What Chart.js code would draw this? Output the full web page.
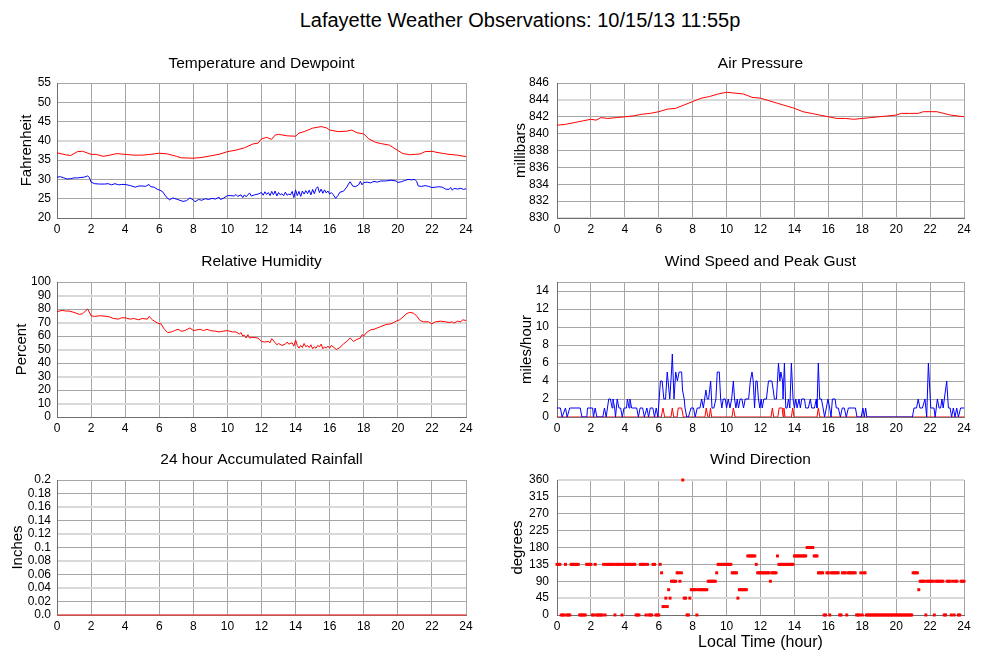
<!DOCTYPE html>
<html>
<head>
<meta charset="utf-8">
<script src="https://cdn.jsdelivr.net/npm/chart.js@4"></script>
<style>
html,body{margin:0;padding:0;background:#fff;width:999px;height:659px;overflow:hidden;position:relative;}
#maintitle{position:absolute;left:20px;width:1000px;top:8px;line-height:24px;text-align:center;font-family:"Liberation Sans",Arial,Helvetica,sans-serif;font-size:20px;color:#000;}
canvas{position:absolute;}
</style>
</head>
<body>
<div id="maintitle">Lafayette Weather Observations: 10/15/13 11:55p</div>
<script>
// ---------------- DATA ----------------
const xTickValues = [0,2,4,6,8,10,12,14,16,18,20,22,24];
const xTickLabels = ['0','2','4','6','8','10','12','14','16','18','20','22','24'];

const tempTicks = [20,25,30,35,40,45,50,55];
const tempLabels = ['20','25','30','35','40','45','50','55'];
const tempHours = [0,0.5,0.8,1.2,1.5,2.0,2.3,2.7,3.0,3.5,4.0,4.5,5.0,5.5,6.0,6.5,7.0,7.3,8.0,8.5,9.0,9.5,10.0,10.5,11.0,11.5,11.8,12.0,12.3,12.6,12.8,13.0,13.5,14.0,14.2,14.5,15.0,15.5,15.8,16.0,16.5,17.0,17.3,17.6,18.0,18.3,18.7,19.0,19.5,20.0,20.3,20.7,21.0,21.3,21.6,22.0,22.3,22.7,23.0,23.5,24];
const tempValues = [36.9,36.4,36.2,37.2,37.3,36.5,36.5,36.0,36.2,36.7,36.5,36.3,36.3,36.5,36.8,36.6,36.0,35.6,35.5,35.7,36.1,36.5,37.2,37.6,38.2,39.2,39.4,40.5,40.9,40.4,41.5,41.7,41.3,41.2,42.0,42.4,43.3,43.7,43.4,42.8,42.4,42.5,42.8,42.1,41.8,40.5,39.6,39.3,38.9,37.5,36.7,36.4,36.5,36.6,37.2,37.3,37.0,36.7,36.5,36.3,35.9];

const dewHours = [0.0,0.2,0.4,0.6,0.8,1.0,1.2,1.4,1.6,1.8,
  1.9,2.0,2.2,2.5,2.8,3.0,3.2,3.4,3.6,3.8,
  4.0,4.3,4.6,4.8,5.0,5.2,5.4,5.5,5.7,5.9,
  6.0,6.2,6.4,6.6,6.8,7.0,7.2,7.4,7.6,7.8,
  8.0,8.1,8.3,8.5,8.7,8.9,9.1,9.3,9.5,9.6,
  9.8,10.0,10.2,10.4,10.5,10.6,10.8,10.9,11.0,11.1,
  11.3,11.4,11.6,11.8,12.0,12.1,12.2,12.3,12.4,12.5,
  12.6,12.7,12.8,12.9,13.0,13.1,13.2,13.3,13.4,13.5,
  13.6,13.7,13.8,13.9,14.0,14.1,14.2,14.3,14.4,14.5,
  14.6,14.7,14.8,14.9,15.0,15.1,15.2,15.3,15.4,15.5,
  15.6,15.7,15.8,15.9,16.0,16.1,16.2,16.35,16.5,16.6,
  16.8,17.0,17.1,17.2,17.35,17.5,17.7,17.8,17.9,18.0,
  18.2,18.4,18.6,18.8,19.0,19.3,19.6,19.9,20.0,20.2,
  20.4,20.6,20.8,21.0,21.1,21.2,21.4,21.6,21.8,22.0,
  22.2,22.4,22.6,22.8,23.0,23.1,23.2,23.3,23.5,23.7,
  23.85,24.0];
const dewValues = [30.6,30.7,30.4,30.1,30.2,30.4,30.4,30.5,30.6,30.9,
  30.5,29.3,28.9,28.8,28.8,28.9,28.6,28.9,28.6,28.7,
  28.7,28.4,28.0,28.3,28.3,28.2,28.7,28.1,28.0,27.4,
  27.3,26.8,25.5,24.7,25.2,24.9,24.6,24.3,24.5,25.2,
  24.7,24.2,24.8,24.6,25.0,24.8,25.1,24.9,25.4,24.8,
  25.2,25.8,25.8,25.7,26.1,25.6,26.0,25.3,26.0,25.5,
  26.5,25.7,26.0,26.2,26.6,25.9,26.8,26.1,26.6,25.8,
  26.9,26.0,27.0,25.7,26.6,26.0,26.3,25.8,26.7,25.9,
  26.2,26.0,26.9,25.3,27.3,25.8,26.9,25.6,27.0,26.2,
  27.1,26.3,27.2,26.0,27.4,26.3,27.6,28.1,26.6,27.5,
  26.4,27.3,26.5,27.0,26.2,26.6,26.1,25.1,25.9,26.7,
  26.9,28.0,28.8,29.4,28.3,28.1,28.6,29.5,28.6,29.2,
  29.3,29.1,29.5,29.3,29.6,29.6,29.8,29.6,29.2,29.4,
  29.7,30.0,29.9,30.0,29.5,28.3,28.2,28.4,28.2,27.9,
  28.0,28.1,28.0,27.5,27.4,27.9,27.2,27.7,27.5,27.7,
  27.4,27.6];

const presTicks = [830,832,834,836,838,840,842,844,846];
const presLabels = ['830','832','834','836','838','840','842','844','846'];
const presHours = [0,0.5,1,1.5,2,2.3,2.6,3,3.5,4,4.5,5,5.5,6,6.5,7,7.5,8,8.5,9,9.5,10,10.5,11,11.5,12,12.5,13,13.5,14,14.5,15,15.5,16,16.5,17,17.5,18,18.5,19,19.5,20,20.3,20.8,21.3,21.6,22,22.4,22.8,23.2,23.6,24];
const presValues = [841.0,841.1,841.3,841.5,841.7,841.6,841.9,841.8,841.9,842.0,842.1,842.3,842.4,842.6,842.9,843.0,843.4,843.8,844.2,844.4,844.7,844.9,844.8,844.7,844.3,844.2,843.9,843.6,843.3,843.0,842.6,842.4,842.2,842.0,841.8,841.8,841.7,841.8,841.9,842.0,842.1,842.2,842.4,842.4,842.4,842.6,842.6,842.6,842.4,842.2,842.1,842.0];

const rhTicks = [0,10,20,30,40,50,60,70,80,90,100];
const rhLabels = ['0','10','20','30','40','50','60','70','80','90','100'];
const rhHours = [0,0.3,0.5,0.7,1.0,1.3,1.5,1.8,2.0,2.2,
  2.5,3.0,3.3,3.6,3.8,4.0,4.3,4.5,4.8,5.0,
  5.3,5.4,5.6,5.9,6.1,6.3,6.5,6.7,6.9,7.1,
  7.3,7.5,7.8,8.0,8.2,8.4,8.6,8.8,9.0,9.3,
  9.5,9.7,10.0,10.3,10.5,10.7,10.8,10.9,11.0,11.1,
  11.2,11.3,11.5,11.8,12.0,12.2,12.4,12.5,12.6,12.8,
  12.9,13.0,13.2,13.4,13.5,13.6,13.8,13.9,14.0,14.1,
  14.2,14.3,14.4,14.5,14.6,14.7,14.8,14.9,15.0,15.1,
  15.2,15.3,15.4,15.5,15.6,15.7,15.8,15.9,16.0,16.1,
  16.2,16.4,16.6,16.8,17.0,17.2,17.4,17.6,17.8,17.9,
  18.0,18.2,18.4,18.6,18.8,19.0,19.3,19.6,19.9,20.1,
  20.3,20.5,20.7,20.9,21.1,21.3,21.5,21.8,22.0,22.2,
  22.5,22.8,23.0,23.2,23.3,23.5,23.7,23.8,24.0];
const rhValues = [78,79,78.5,78.5,77.5,76,76.5,80,75,74.5,
  75,74.5,73,72.5,73.5,73.5,72.5,73,72,73,
  72.5,74.5,72,69.5,69,65,62.5,63,64,65,
  63.5,64,66,64,64.5,65,64,65,64,63.5,
  63,63.5,64,63,63,61.5,62.5,60,60.5,58.5,
  61,58.5,59,58.5,56,55.5,56,55,58,55,
  53.5,54.5,53,54,55.5,54,55,52.5,57,53,
  51,53,51.5,54.5,52,53,51.5,53.5,50.5,52,
  51,53,52,54,50.5,52,51,52.5,51,53,
  52,50,51.5,54,56,58.5,56,57.5,58.5,61,
  60,63,64.5,65,66,67,68.5,69,71,72,
  74,76.5,77.5,77,75,71.5,70.5,70.5,69,70.5,
  71,70.5,70,70.5,69.5,71,70.5,72,71.5];

const windTicks = [0,2,4,6,8,10,12,14,15];
const windLabels = ['0','2','4','6','8','10','12','14',''];
const speedHours = [0,0.2,0.3,0.5,0.6,0.75,1.37,1.47,1.76,1.8,
  2.1,2.15,2.25,2.35,2.7,2.8,2.9,3.05,3.15,3.25,
  3.3,3.4,3.45,3.55,3.65,3.75,3.85,3.95,4.1,4.15,
  4.25,4.3,4.4,4.7,4.8,4.9,5.05,5.15,5.3,5.4,
  5.5,5.65,5.75,5.85,5.95,6.1,6.2,6.3,6.4,6.5,
  6.6,6.65,6.75,6.8,6.9,6.95,7.0,7.1,7.2,7.35,
  7.4,7.5,7.55,7.65,7.75,7.9,8.05,8.15,8.27,8.43,
  8.53,8.63,8.78,8.86,8.94,9.06,9.14,9.25,9.37,9.45,
  9.57,9.65,9.72,9.8,9.92,10.0,10.1,10.2,10.3,10.4,
  10.47,10.55,10.63,10.7,10.8,10.9,11.0,11.1,11.3,11.4,
  11.5,11.57,11.65,11.73,11.8,11.88,11.96,12.04,12.1,12.2,
  12.35,12.47,12.67,12.75,12.82,12.94,13.06,13.14,13.2,13.3,
  13.33,13.41,13.49,13.57,13.65,13.73,13.82,13.92,14.0,14.08,
  14.16,14.27,14.35,14.43,14.59,14.67,14.82,14.94,15.02,15.18,
  15.29,15.33,15.41,15.49,15.59,15.69,15.78,15.88,15.98,16.08,
  16.16,16.24,16.4,16.47,16.59,16.71,16.82,16.94,17.06,17.18,
  17.6,17.69,17.94,18.04,18.12,18.2,18.27,20.96,21.05,21.2,
  21.3,21.4,21.55,21.7,21.8,21.9,22.04,22.23,22.3,22.43,
  22.53,22.62,22.7,22.77,22.84,22.98,23.08,23.18,23.27,23.37,
  23.47,23.57,23.67,23.8,24.0];
const speedValues = [1,1,0,1,0,1,1,0,0,1,
  1,0,1,0,0,1,0,2,2,1,
  2,1,0,2,1,1,0,1,1,2,
  1,2,1,1,0,1,1,0,1,0,
  1,1,0,1,0,4,4,2,2,5,
  3,2,5,7,2,2,5,4,5,5,
  3,2,1,0,0,1,1,0,1,1,
  2,1,3,2,2,4,1,1,2,5,
  5,2,1,2,2,1,2,1,2,4,
  2,1,2,1,2,2,1,2,2,4,
  5,4,1,4,4,2,1,2,1,2,
  2,4,4,3,2,2,6,4,5,4,
  2,6,1,1,2,1,6,2,1,2,
  1,2,1,2,2,1,1,2,1,1,
  2,1,6,2,2,1,0,1,2,1,
  0,2,2,1,1,0,1,1,0,1,
  1,0,0,1,0,1,0,0,1,1,
  2,1,1,2,0,6,1,1,0,2,
  1,1,2,1,2,4,1,1,0,1,
  0,1,0,1,1];
const gustHours = [0,6.15,6.25,6.35,6.72,6.8,6.88,7.08,7.15,7.35,7.45,8.72,8.8,8.9,8.98,9.05,9.12,10.32,10.4,10.5,12.62,12.7,12.78,13.02,13.1,13.28,13.33,13.38,13.45,13.82,13.9,13.98,15.33,15.41,15.5,24];
const gustValues = [0,0,1,0,0,1,0,0,1,1,0,0,1,0,0,1,0,0,1,0,0,1,0,0,1,1,0,1,0,0,1,0,0,1,0,0];

const rainTicks = [0,0.02,0.04,0.06,0.08,0.1,0.12,0.14,0.16,0.18,0.2];
const rainLabels = ['0.0','0.02','0.04','0.06','0.08','0.1','0.12','0.14','0.16','0.18','0.2'];
const rainHours = [0,4,8,12,16,20,24];
const rainValues = [0,0,0,0,0,0,0];

const dirTicks = [0,45,90,135,180,225,270,315,360];
const dirLabels = ['0','45','90','135','180','225','270','315','360'];
const dirStepMinutes = 5;   // one observation every 5 minutes from 00:00
const dirValues = [
  135,135,135,0,0,0,135,0,0,0,135,135,
  135,135,135,135,0,0,0,0,0,135,135,135,
  135,0,0,135,0,0,0,0,0,135,0,135,
  135,135,135,135,135,0,135,135,135,135,0,135,
  135,135,135,135,135,135,135,135,0,0,0,135,
  135,135,135,0,135,0,0,0,135,135,0,0,
  0,135,112.5,22.5,22.5,45,22.5,67.5,45,90,90,90,
  90,112.5,112.5,90,112.5,360,45,45,0,0,45,67.5,
  67.5,67.5,67.5,0,67.5,67.5,67.5,67.5,67.5,67.5,67.5,90,
  90,90,90,90,90,112.5,135,135,135,135,135,135,
  135,135,135,135,112.5,112.5,112.5,112.5,45,67.5,67.5,67.5,
  67.5,67.5,67.5,157.5,157.5,157.5,157.5,157.5,157.5,135,112.5,112.5,
  112.5,112.5,112.5,112.5,112.5,112.5,112.5,90,112.5,112.5,112.5,112.5,
  157.5,135,135,135,135,135,135,135,135,135,135,135,
  157.5,157.5,157.5,157.5,157.5,157.5,157.5,157.5,157.5,180,180,180,
  180,180,157.5,157.5,157.5,112.5,112.5,112.5,112.5,0,0,112.5,
  112.5,0,112.5,112.5,112.5,112.5,112.5,112.5,0,0,112.5,112.5,
  112.5,0,112.5,112.5,112.5,112.5,112.5,112.5,0,0,0,112.5,
  0,112.5,112.5,0,0,0,0,0,0,0,0,0,
  0,0,0,0,0,0,0,0,0,0,0,0,
  0,0,0,0,0,0,0,0,0,0,0,0,
  112.5,112.5,112.5,112.5,67.5,90,90,90,90,0,90,90,
  90,90,90,0,90,90,90,90,90,90,0,0,
  90,90,90,0,90,0,90,90,0,0,90,90,
  90];

// ---------------- RENDERING ----------------
Chart.defaults.font.family = '"Liberation Sans", Arial, Helvetica, sans-serif';
Chart.defaults.color = '#000';

function pts(h, v) {
  const n = Math.min(h.length, v.length), out = [];
  for (let i = 0; i < n; i++) out.push({x: h[i], y: v[i]});
  return out;
}
function line(data, color, width) {
  return {data, borderColor: color, borderWidth: width || 1, pointRadius: 0, tension: 0, fill: false};
}

const GRID = '#a6a6a6', LIGHT = '#d9d9d9', AXIS = '#6e6e6e';
const TICKFONT = 12;

function panel(cfg) {
  const cv = document.createElement('canvas');
  cv.width = cfg.w; cv.height = cfg.h;
  cv.style.left = cfg.left + 'px'; cv.style.top = cfg.top + 'px';
  document.body.appendChild(cv);
  const isLight = c => c.tick && cfg.light.indexOf(c.tick.value) >= 0;
  const tfs = 15.5, tlh = tfs * 1.2;
  return new Chart(cv, {
    type: 'line',
    data: {datasets: cfg.datasets},
    options: {
      responsive: false, devicePixelRatio: 1, animation: false,
      layout: {padding: {left: 0, right: cfg.padRight, top: 0, bottom: 0}},
      plugins: {
        legend: {display: false}, tooltip: {enabled: false},
        title: {display: true, text: cfg.title, fullSize: false, color: '#000',
                font: {size: tfs, weight: 'normal'}, padding: {top: cfg.tTop, bottom: 44 - tlh - cfg.tTop}}
      },
      scales: {
        x: {
          type: 'linear', min: 0, max: 24,
          afterBuildTicks: s => { s.ticks = xTickValues.map(v => ({value: v})); },
          afterFit: s => { s.height = cfg.h - 179; },
          ticks: {autoSkip: false, maxRotation: 0, padding: 4, font: {size: TICKFONT}, color: '#000',
                  callback: (v, i) => xTickLabels[i]},
          grid: {color: GRID, lineWidth: 1, drawTicks: false},
          border: {color: AXIS, width: 1},
          title: cfg.xTitle ? {display: true, text: cfg.xTitle, color: '#000', font: {size: 16},
                               padding: {top: 0, bottom: cfg.xTitlePad}} : {display: false}
        },
        y: {
          type: 'linear', min: cfg.yTicks[0], max: cfg.yTicks[cfg.yTicks.length - 1],
          afterBuildTicks: s => { s.ticks = cfg.yTicks.map(v => ({value: v})); },
          afterFit: s => { s.width = cfg.yW; },
          ticks: {autoSkip: false, padding: cfg.yPad, font: {size: TICKFONT}, color: '#000',
                  callback: (v, i) => cfg.yLabels[i]},
          grid: {drawTicks: false, color: c => isLight(c) ? LIGHT : GRID, lineWidth: c => isLight(c) ? 2 : 1},
          border: {color: AXIS, width: 1},
          title: {display: true, text: cfg.yTitle, color: '#000', font: {size: 15},
                  padding: {top: cfg.yTitleCenter - cfg.left - 9, bottom: 0}}
        }
      }
    }
  });
}

const L = {left: 0, w: 486, yW: 57, padRight: 20, yPad: 6};
const R = {left: 480, w: 504, yW: 77, padRight: 20, yPad: 8};

panel(Object.assign({}, L, {top: 39, h: 200, tTop: 15, title: 'Temperature and Dewpoint',
  yTitle: 'Fahrenheit', yTitleCenter: 26.5, yTicks: tempTicks, yLabels: tempLabels, light: [40],
  datasets: [line(pts(tempHours, tempValues), '#ff0000'), line(pts(dewHours, dewValues), '#0000ff')]}));

panel(Object.assign({}, R, {top: 39, h: 200, tTop: 15, title: 'Air Pressure',
  yTitle: 'millibars', yTitleCenter: 520.5, yTicks: presTicks, yLabels: presLabels, light: [844, 830],
  datasets: [line(pts(presHours, presValues), '#ff0000')]}));

panel(Object.assign({}, L, {top: 238, h: 200, tTop: 14, title: 'Relative Humidity',
  yTitle: 'Percent', yTitleCenter: 21.5, yTicks: rhTicks, yLabels: rhLabels, light: [90, 70, 50, 30, 10],
  datasets: [line(pts(rhHours, rhValues), '#ff0000')]}));

panel(Object.assign({}, R, {top: 238, h: 200, tTop: 14, title: 'Wind Speed and Peak Gust',
  yTitle: 'miles/hour', yTitleCenter: 527, yTicks: windTicks, yLabels: windLabels, light: [],
  datasets: [line(pts(speedHours, speedValues), '#0000ff'), line(pts(gustHours, gustValues), '#ff0000')]}));

panel(Object.assign({}, L, {top: 436, h: 223, tTop: 14, title: '24 hour Accumulated Rainfall',
  yTitle: 'Inches', yTitleCenter: 17.7, yTicks: rainTicks, yLabels: rainLabels, light: [0.16, 0.12, 0.08, 0.04],
  datasets: [Object.assign(line(pts(rainHours, rainValues), 'rgba(225,70,70,0.7)', 2), {clip: 2})]}));

const dirHours = dirValues.map((v, i) => i * dirStepMinutes / 60);
panel(Object.assign({}, R, {top: 436, h: 223, tTop: 14, title: 'Wind Direction',
  yTitle: 'degrees', yTitleCenter: 517.5, yTicks: dirTicks, yLabels: dirLabels, light: [45, 360],
  xTitle: 'Local Time (hour)', xTitlePad: 6.4,
  datasets: [{data: pts(dirHours, dirValues), showLine: false, pointStyle: 'rect', pointRadius: 2.1,
              pointBorderWidth: 0, pointBackgroundColor: '#ff0000', pointBorderColor: '#ff0000', clip: 4}]}));
</script>
</body>
</html>
